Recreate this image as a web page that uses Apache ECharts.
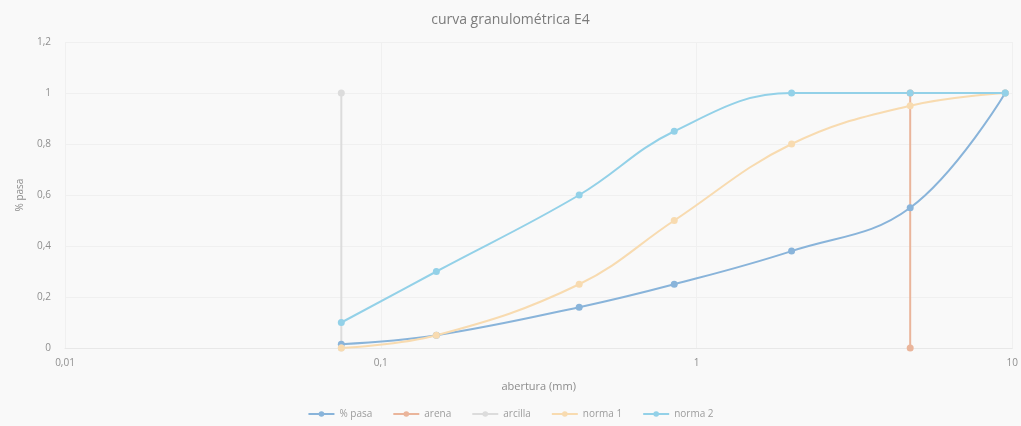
<!DOCTYPE html>
<html>
<head>
<meta charset="utf-8">
<script src="https://cdn.jsdelivr.net/npm/echarts@6/dist/echarts.min.js"></script>
<style>
  html, body { margin: 0; padding: 0; background: #f9f9f9; }
  #chart { width: 1021px; height: 426px; }
</style>
</head>
<body>
<div id="chart"></div>
<script>
// Sieve openings (mm) and fraction passing for each curve
const aberturas = [0.075, 0.15, 0.425, 0.85, 2, 4.75, 9.5];
const pasa   = [0.015, 0.05, 0.16, 0.25, 0.38, 0.55, 1.0];
const norma1 = [0.0, 0.05, 0.25, 0.50, 0.80, 0.95, 1.0];
const norma2 = [0.10, 0.30, 0.60, 0.85, 1.0, 1.0, 1.0];

// Vertical reference lines: sand limit and clay limit
const arenaX = [4.75, 4.75];
const arenaY = [0, 1];
const arcillaX = [0.075, 0.075];
const arcillaY = [0, 1];

const seriesNames = ['% pasa', 'arena', 'arcilla', 'norma 1', 'norma 2'];
const colors = ['#89b4da', '#eab59b', '#dcdcdc', '#f8dbb0', '#93d1e8'];

const zip = (xs, ys) => xs.map((x, i) => [x, ys[i]]);
const fmt = v => String(v).replace('.', ',');

function lineSeries(name, data, color, smooth) {
  return {
    name, type: 'line', data, smooth,
    symbol: 'circle', symbolSize: 7,
    lineStyle: { color, width: 2 },
    itemStyle: { color },
    z: 2
  };
}

const chart = echarts.init(document.getElementById('chart'));
chart.setOption({
  backgroundColor: '#f9f9f9',
  animation: false,
  color: colors,
  textStyle: { fontFamily: 'Open Sans' },
  title: {
    text: 'curva granulométrica E4',
    left: 'center', top: 8,
    textStyle: { fontSize: 14, fontWeight: 'normal', color: '#7c7c7c', fontFamily: 'Open Sans' }
  },
  legend: {
    bottom: 2, left: 'center',
    itemWidth: 26, itemHeight: 7, itemGap: 20,
    textStyle: { fontSize: 10, color: '#9c9c9c' },
    data: seriesNames
  },
  grid: { left: 65, right: 8, top: 42, bottom: 78 },
  xAxis: {
    type: 'log', logBase: 10, min: 0.01, max: 10,
    name: 'abertura (mm)', nameLocation: 'middle', nameGap: 33,
    nameTextStyle: { fontSize: 11, color: '#8c8c8c' },
    axisLine: { show: true, lineStyle: { color: '#e8e8e8' } },
    axisTick: { show: false },
    axisLabel: { fontSize: 10, color: '#8f8f8f', margin: 10, formatter: fmt, showMaxLabel: true },
    splitLine: { show: true, lineStyle: { color: '#f0f0f0' } }
  },
  yAxis: {
    type: 'value', min: 0, max: 1.2, interval: 0.2,
    name: '% pasa', nameLocation: 'middle', nameGap: 40,
    nameTextStyle: { fontSize: 10, color: '#8c8c8c' },
    axisLine: { show: false }, axisTick: { show: false },
    axisLabel: { fontSize: 10, color: '#8f8f8f', margin: 14, formatter: v => fmt(Math.round(v * 10) / 10) },
    splitLine: { show: true, lineStyle: { color: '#f0f0f0' } }
  },
  series: [
    lineSeries('% pasa', zip(aberturas, pasa), colors[0], 0.4),
    lineSeries('arena', zip(arenaX, arenaY), colors[1], false),
    lineSeries('arcilla', zip(arcillaX, arcillaY), colors[2], false),
    lineSeries('norma 1', zip(aberturas, norma1), colors[3], 0.4),
    lineSeries('norma 2', zip(aberturas, norma2), colors[4], 0.4)
  ]
});
</script>
</body>
</html>
